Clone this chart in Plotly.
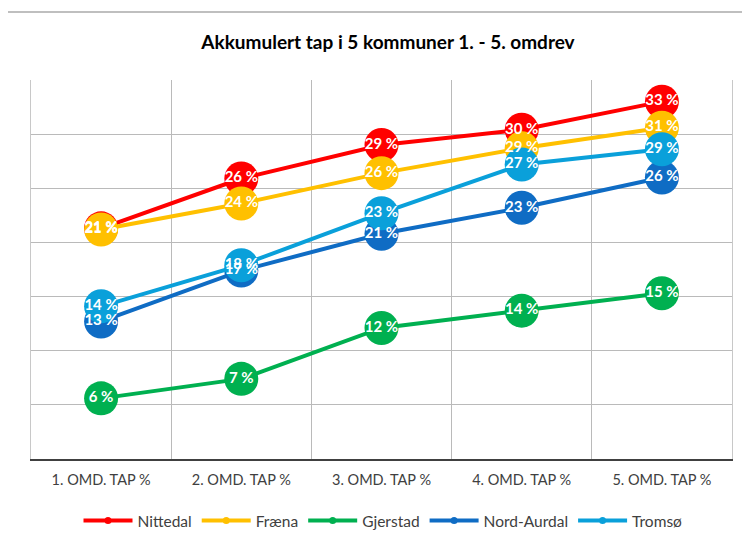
import plotly.graph_objects as go

categories = ["1. OMD. TAP %", "2. OMD. TAP %", "3. OMD. TAP %", "4. OMD. TAP %", "5. OMD. TAP %"]
nittedal = [21.3, 25.9, 29.0, 30.4, 33.0]
fraena = [21.2, 23.6, 26.4, 28.7, 30.6]
gjerstad = [5.6, 7.4, 12.1, 13.7, 15.3]
nord_aurdal = [12.7, 17.4, 20.8, 23.2, 26.0]
tromso = [14.1, 17.9, 22.7, 27.2, 28.6]

series = [
    ("Nittedal", nittedal, "#FF0000"),
    ("Fræna", fraena, "#FFC000"),
    ("Gjerstad", gjerstad, "#00B050"),
    ("Nord-Aurdal", nord_aurdal, "#0F6CC4"),
    ("Tromsø", tromso, "#0AA0DA"),
]

FONT = "Lato, Arial, sans-serif"
xs = list(range(len(categories)))

# page is offset by the body margin (8 px)
OFF = 8
W, H = 750, 542

fig = go.Figure()
for name, vals, col in series:
    fig.add_trace(go.Scatter(
        x=xs, y=vals, name=name, mode="lines+markers",
        line=dict(color=col, width=4),
        marker=dict(size=7, color=col),
        hoverinfo="skip",
    ))
    fig.add_trace(go.Scatter(
        x=xs, y=vals, mode="markers", showlegend=False,
        marker=dict(size=34, color=col, line=dict(width=0)),
        hoverinfo="skip",
    ))
for name, vals, col in series:
    fig.add_trace(go.Scatter(
        x=xs, y=vals, mode="text", showlegend=False,
        text=[f"{round(v)} %" for v in vals],
        textposition="middle center",
        textfont=dict(family=FONT, size=15, color="white", weight="bold"),
        hoverinfo="skip",
    ))

fig.update_layout(
    width=W, height=H,
    margin=dict(l=31 - OFF, r=W - (732 - OFF), t=80 - OFF, b=H - (459 - OFF), autoexpand=False),
    paper_bgcolor="white", plot_bgcolor="white",
    font=dict(family=FONT, size=14, color="#404040"),
    title=dict(
        text="<b>Akkumulert tap i 5 kommuner 1. - 5. omdrev</b>",
        x=(388 - OFF) / W, xanchor="center", xref="container",
        y=1 - (42 - OFF) / H, yanchor="middle", yref="container",
        font=dict(family=FONT, size=19, color="#000000"),
    ),
    xaxis=dict(
        range=[-0.5, 4.5], tickmode="array", tickvals=xs, ticktext=categories,
        showgrid=False, zeroline=False, ticks="",
        ticklabelstandoff=7,
        showline=True, linecolor="#404040", linewidth=2,
        minor=dict(tick0=0.5, dtick=1, showgrid=True, gridcolor="#bababa", gridwidth=1, ticks=""),
        tickfont=dict(family=FONT, size=14.5, color="#404040"),
        fixedrange=True,
    ),
    yaxis=dict(
        range=[0, 35], dtick=5, showticklabels=False, ticks="",
        showgrid=True, gridcolor="#bababa", gridwidth=1, zeroline=False,
        showline=True, mirror=True, linecolor="#c8c8c8", linewidth=1,
        fixedrange=True,
    ),
    legend=dict(
        orientation="h", xref="container", yref="container",
        x=(383 - OFF) / W, xanchor="center",
        y=1 - (521 - OFF) / H, yanchor="middle",
        font=dict(family=FONT, size=15.5, color="#404040"),
        itemwidth=49, tracegroupgap=0,
    ),
    showlegend=True,
)

fig.add_shape(type="rect", xref="paper", yref="paper",
              x0=(5 - 31) / 701, x1=(780 - 31) / 701,
              y0=(459 - 600) / 379, y1=(459 - 12) / 379,
              line=dict(color="#bfbfbf", width=2), fillcolor="rgba(0,0,0,0)", layer="below")

fig.write_html("out.html")
